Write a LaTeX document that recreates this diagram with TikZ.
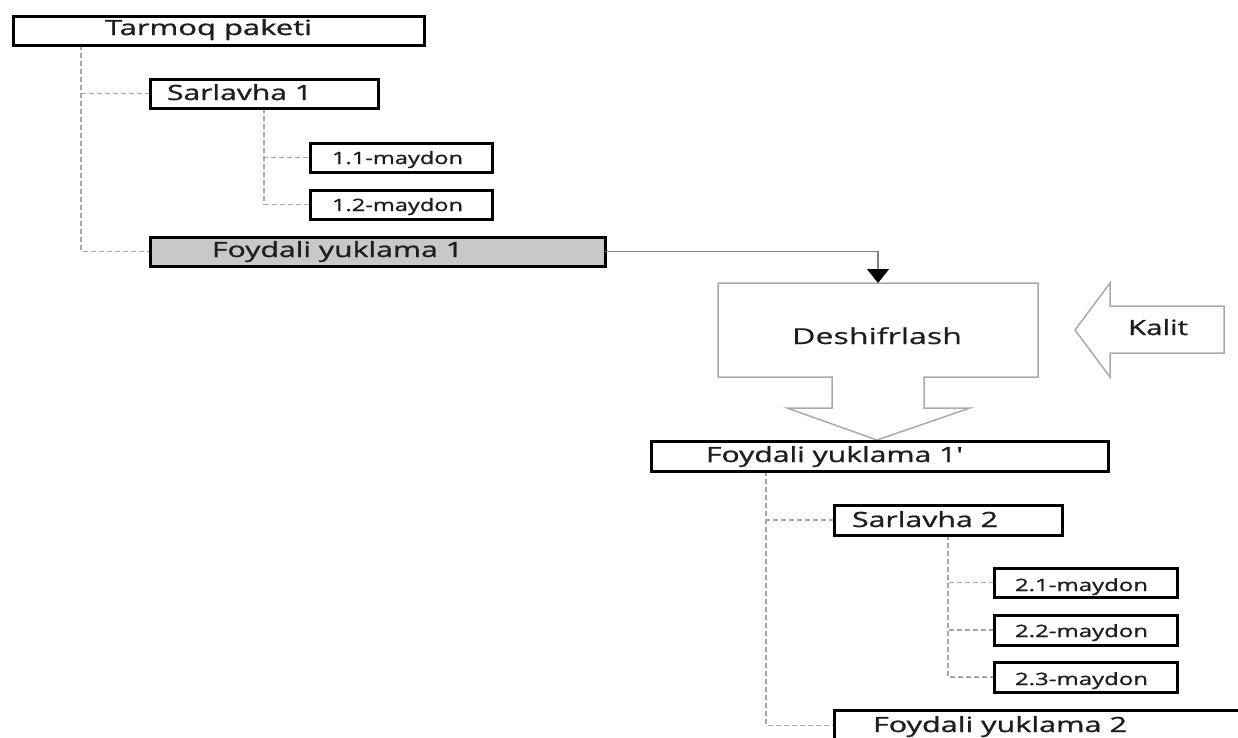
\documentclass[tikz,border=0pt]{standalone}
\usepackage{fontspec}
\usepackage{graphicx}
\newfontfamily\uifont{Open Sans}[Ligatures=TeXOff,FakeBold=1.0]
\newfontfamily\uilight{Open Sans}[Ligatures=TeXOff,FakeBold=0.4]
\usetikzlibrary{arrows.meta,calc,backgrounds}
\definecolor{boxgray}{RGB}{200,200,200}
\definecolor{dashgray}{RGB}{165,165,165}
\definecolor{shapegray}{RGB}{170,170,170}
\definecolor{linegray}{RGB}{130,130,130}
\definecolor{txtcol}{RGB}{30,30,30}
\newcommand{\wtext}[2]{\resizebox{#1pt}{\height}{#2}}
\begin{document}
\begin{tikzpicture}[x=1pt,y=-1pt,
  box/.style={draw=black, line width=3pt, rectangle, inner sep=0pt, outer sep=0pt, anchor=north west},
  txt/.style={inner sep=0pt, outer sep=0pt, anchor=base west, text=txtcol, font=\uifont\fontsize{21}{21}\selectfont},
  smalltxt/.style={txt, font=\uifont\fontsize{17}{17}\selectfont},
  tree/.style={draw=dashgray, line width=1.5pt, dash pattern=on 5pt off 3pt},
  outline/.style={draw=shapegray, line width=1.5pt, line join=miter},
  link/.style={draw=linegray, line width=1.2pt, -{Triangle[width=22pt,length=14pt,black]}},
]
\clip (0,0) rectangle (1238,737);

% upper tree boxes
\node[box, minimum width=411pt, minimum height=29pt] (tp)  at (13,16)  {};
\node[box, minimum width=228pt, minimum height=29pt] (s1)  at (150,79) {};
\node[box, minimum width=182pt, minimum height=29pt] (f11) at (310,143) {};
\node[box, minimum width=182pt, minimum height=29pt] (f12) at (310,190) {};
\node[box, fill=boxgray, minimum width=455pt, minimum height=29pt] (fy1) at (150,237) {};

\node[txt] (tp-t)  at (105,35)  {\wtext{207}{Tarmoq paketi}};
\node[txt] (s1-t)  at (167,100) {\wtext{145}{Sarlavha 1}};
\node[smalltxt] (f11-t) at (332,164) {\wtext{131}{1.1-maydon}};
\node[smalltxt] (f12-t) at (332,211) {\wtext{131}{1.2-maydon}};
\node[txt] (fy1-t) at (212,257) {\wtext{251}{Foydali yuklama 1}};

% decryption block
\node[minimum width=320pt, minimum height=94pt, inner sep=0pt, outer sep=0pt] (dec) at (878,330) {};
\draw[outline] (dec.north west) -- (dec.north east) -- (dec.south east)
  -- (924,377) -- (924,408) -- (970,408) -- (877,440) -- (787,408)
  -- (832,408) -- (832,377) -- (dec.south west) -- cycle;
\node[txt, font=\uilight\fontsize{22}{22}\selectfont] (dec-t) at (792,344) {\wtext{170}{Deshifrlash}};

% key arrow
\draw[outline] (1075,330) -- (1110,283) -- (1110,306) -- (1224,306) -- (1224,353)
  -- (1110,353) -- (1110,377) -- cycle;
\node[txt] (key) at (1128,335) {\wtext{60}{Kalit}};

\draw[link] (fy1.east) -| (dec.north);

% lower tree boxes
\node[box, minimum width=457pt, minimum height=30pt] (fy1p) at (651,441) {};
\node[box, minimum width=228pt, minimum height=30pt] (s2)   at (834,505) {};
\node[box, minimum width=183pt, minimum height=29pt] (f21)  at (994,568) {};
\node[box, minimum width=183pt, minimum height=30pt] (f22)  at (994,615) {};
\node[box, minimum width=183pt, minimum height=30pt] (f23)  at (994,662) {};
\node[box, minimum width=420pt, minimum height=31pt] (fy2)  at (834,710) {};

\node[txt] (fy1p-t) at (706,462) {\wtext{257}{Foydali yuklama 1'}};
\node[txt] (s2-t)   at (852,527) {\wtext{146}{Sarlavha 2}};
\node[smalltxt] (f21-t) at (1015,591) {\wtext{133}{2.1-maydon}};
\node[smalltxt] (f22-t) at (1015,637) {\wtext{133}{2.2-maydon}};
\node[smalltxt] (f23-t) at (1015,685) {\wtext{133}{2.3-maydon}};
\node[txt] (fy2-t)  at (873,732) {\wtext{254}{Foydali yuklama 2}};

% dashed tree connectors
\begin{scope}[on background layer]
\draw[tree] ($(tp.south west)+(68,0)$) |- (s1.west);
\draw[tree] ($(tp.south west)+(68,0)$) |- (fy1.west);
\draw[tree] ($(s1.south west)+(114,0)$) |- (f11.west);
\draw[tree] ($(s1.south west)+(114,0)$) |- (f12.west);
\draw[tree] ($(fy1p.south west)+(115,0)$) |- (s2.west);
\draw[tree] ($(fy1p.south west)+(115,0)$) |- (fy2.west);
\draw[tree] ($(s2.south west)+(114,0)$) |- (f21.west);
\draw[tree] ($(s2.south west)+(114,0)$) |- (f22.west);
\draw[tree] ($(s2.south west)+(114,0)$) |- (f23.west);
\end{scope}
\end{tikzpicture}
\end{document}
